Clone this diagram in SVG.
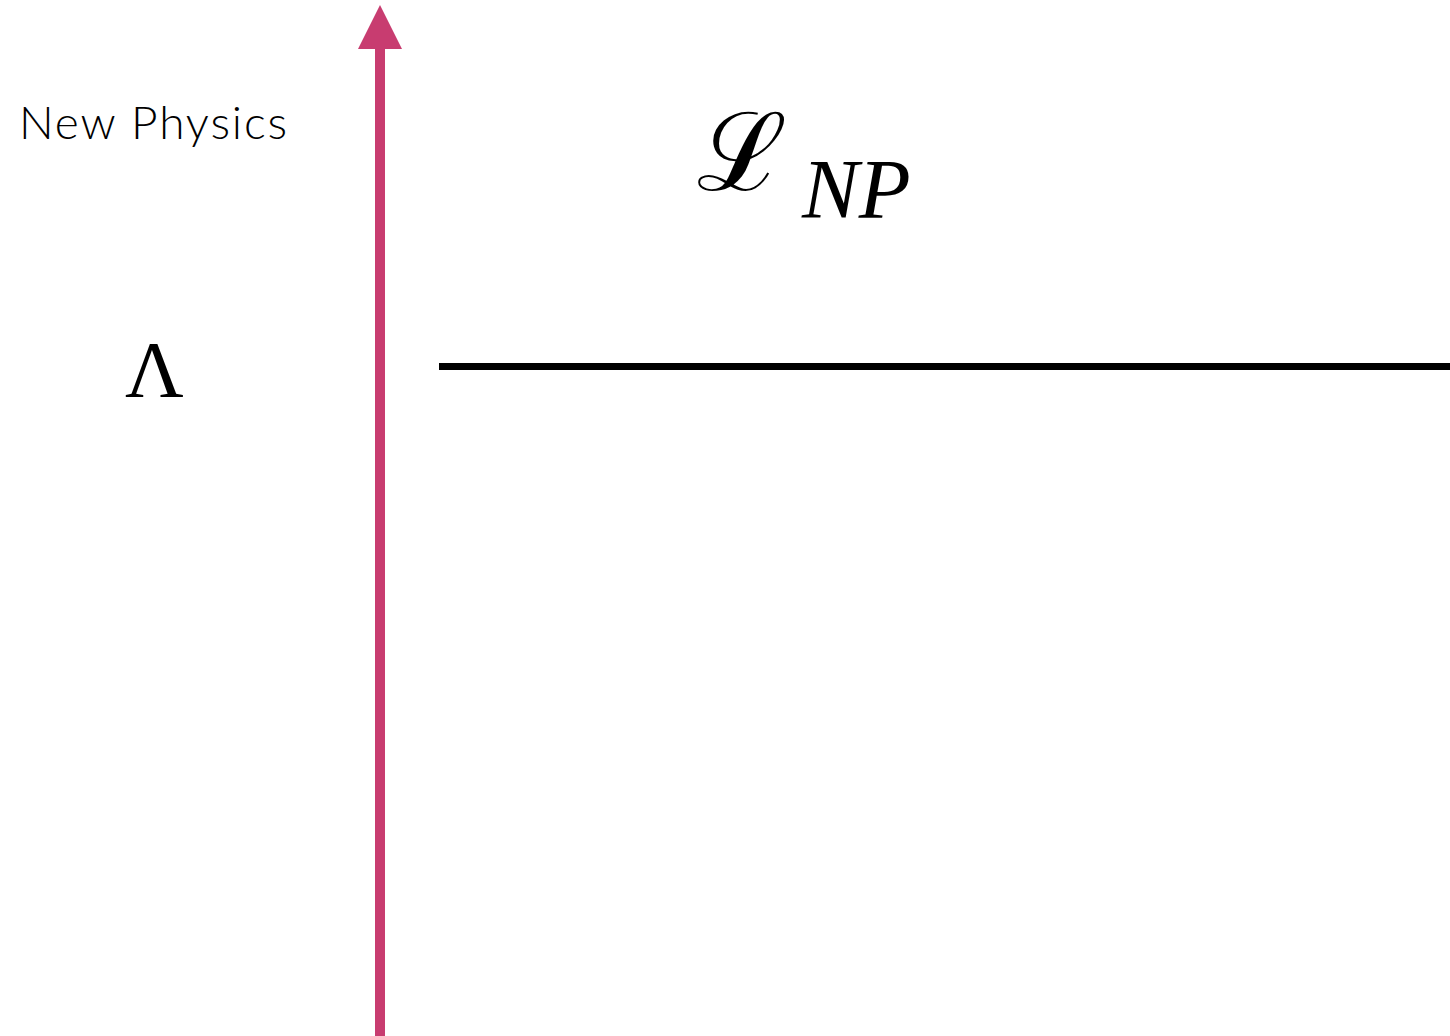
<svg xmlns="http://www.w3.org/2000/svg" width="1450" height="1036" viewBox="0 0 1450 1036">
<style>
.lbl{font-family:"Lato","Noto Sans",sans-serif;font-weight:300;fill:#000}
.math{font-family:"Liberation Serif","DejaVu Serif",serif;fill:#000}
</style>
<rect width="1450" height="1036" fill="#fff"/>
<g id="axis">
<rect x="375" y="46" width="10" height="990" fill="#C83C70"/>
<polygon points="380,5 402,49 358,49" fill="#C83C70"/>
</g>
<g id="np-label"><text class="lbl" x="19" y="139" font-size="46" textLength="268">New Physics</text></g>
<g id="lambda"><text class="math" x="125" y="397" font-size="81">Λ</text></g>
<g id="scale-line"><rect x="439" y="363" width="1011" height="7" fill="#000"/></g>
<g id="lagrangian">
<text class="math" x="697" y="190" font-size="108">ℒ</text>
<text class="math" x="802" y="218" font-size="85" font-style="italic">NP</text>
</g>
</svg>
